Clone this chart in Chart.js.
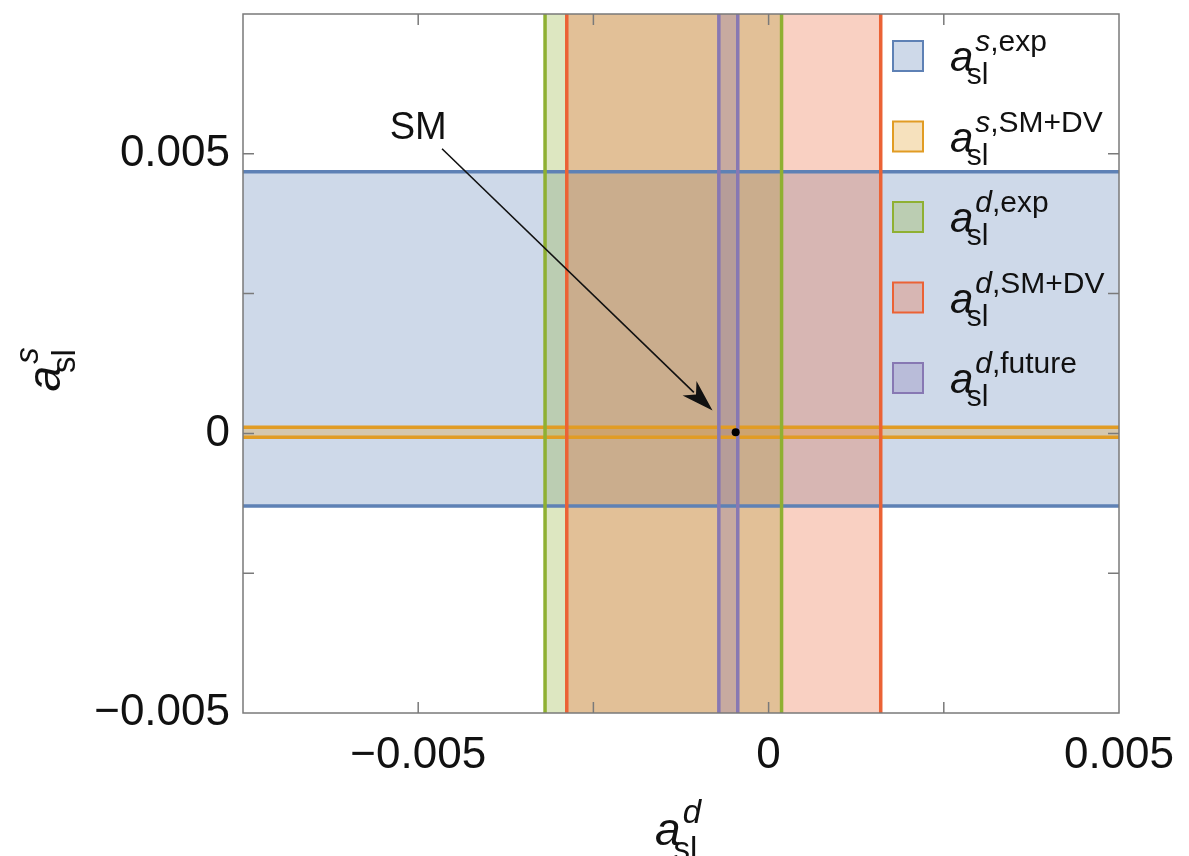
<!DOCTYPE html>
<html>
<head>
<meta charset="utf-8">
<script src="https://cdn.jsdelivr.net/npm/chart.js@4.4.0/dist/chart.umd.min.js"></script>
<style>
  html, body { margin: 0; padding: 0; background: #fff; }
</style>
</head>
<body>
<canvas id="aslChart" width="1189" height="856"></canvas>
<script>
// axis ranges
const xRange = [-0.0075, 0.005];
const yRange = [-0.005, 0.0075];

// allowed ranges
const asExp = [-0.0013, 0.00468];
const asSMDV = [-0.00007, 0.00011];
const adExp = [-0.00319, 0.000185];
const adSMDV = [-0.00288, 0.0016];
const adFuture = [-0.00071, -0.00044];
const smPoint = [-0.00047, 0.00002];

// ticks
const xTickValues = [-0.005, 0, 0.005];
const xTickLabels = ['−0.005', '0', '0.005'];
const yTickValues = [-0.005, 0, 0.005];
const yTickLabels = ['−0.005', '0', '0.005'];
const xMinorTicks = [-0.0025, 0.0025];
const yMinorTicks = [-0.0025, 0.0025];

// legend
const legendSup = [['s', ',exp'], ['s', ',SM+DV'], ['d', ',exp'], ['d', ',SM+DV'], ['d', ',future']];
const colors = ['#5E81B5', '#E19C24', '#8FB032', '#EB6235', '#8778B3'];

// SM annotation
const arrowFrom = [-0.00466, 0.00509];
const arrowTo = [-0.0008, 0.00041];
const smLabelAt = [-0.005, 0.00546];

const FONT = '"Liberation Sans", Arial, Helvetica, sans-serif';

function alpha(hex, a) {
  const n = parseInt(hex.slice(1), 16);
  return `rgba(${(n >> 16) & 255},${(n >> 8) & 255},${n & 255},${a})`;
}

// closed polygons that run past the frame, so only the two band edges show
function hBand(r) {
  return [{x: -0.02, y: r[0]}, {x: 0.02, y: r[0]}, {x: 0.02, y: r[1]}, {x: -0.02, y: r[1]}, {x: -0.02, y: r[0]}];
}
function vBand(r) {
  return [{x: r[0], y: -0.02}, {x: r[0], y: 0.02}, {x: r[1], y: 0.02}, {x: r[1], y: -0.02}, {x: r[0], y: -0.02}];
}

function band(label, data, i) {
  return {
    label: label,
    data: data,
    borderColor: colors[i],
    backgroundColor: alpha(colors[i], 0.3),
    borderWidth: 3.5,
    fill: 'shape',
    pointRadius: 0,
    tension: 0,
    clip: 0,
    order: 5 - i,
  };
}

// a_sl with sub/superscripts, y is the baseline of "a"
function mathLabel(ctx, x, y, sup, size) {
  const small = Math.round(size * 0.72);
  ctx.fillStyle = '#111';
  ctx.textAlign = 'left';
  ctx.textBaseline = 'alphabetic';
  ctx.font = `italic ${size}px ${FONT}`;
  ctx.fillText('a', x, y);
  const aw = ctx.measureText('a').width;
  ctx.font = `${small}px ${FONT}`;
  ctx.fillText('sl', x + aw * 0.72, y + size * 0.32);
  let sx = x + aw * 1.08;
  const sy = y - size * 0.47;
  ctx.font = `italic ${small}px ${FONT}`;
  ctx.fillText(sup[0], sx, sy);
  sx += ctx.measureText(sup[0]).width;
  if (sup[1]) {
    ctx.font = `${small}px ${FONT}`;
    ctx.fillText(sup[1], sx, sy);
  }
}

const extrasPlugin = {
  id: 'extras',
  afterDatasetsDraw(chart) {
    const {ctx, chartArea: a, scales: {x, y}} = chart;
    ctx.save();

    // frame with inward ticks on all four sides
    ctx.strokeStyle = '#7a7a7a';
    ctx.lineWidth = 1.5;
    ctx.strokeRect(a.left, a.top, a.right - a.left, a.bottom - a.top);
    const len = 11;
    ctx.beginPath();
    xTickValues.concat(xMinorTicks).forEach(v => {
      const px = x.getPixelForValue(v);
      if (px <= a.left + 1 || px >= a.right - 1) return;
      ctx.moveTo(px, a.bottom); ctx.lineTo(px, a.bottom - len);
      ctx.moveTo(px, a.top); ctx.lineTo(px, a.top + len);
    });
    yTickValues.concat(yMinorTicks).forEach(v => {
      const py = y.getPixelForValue(v);
      if (py <= a.top + 1 || py >= a.bottom - 1) return;
      ctx.moveTo(a.left, py); ctx.lineTo(a.left + len, py);
      ctx.moveTo(a.right, py); ctx.lineTo(a.right - len, py);
    });
    ctx.stroke();

    // legend
    const boxX = a.right - 226, box = 30;
    legendSup.forEach((sup, i) => {
      const cy = a.top + 42 + i * 80.5;
      ctx.fillStyle = alpha(colors[i], 0.3);
      ctx.fillRect(boxX, cy - box / 2, box, box);
      ctx.strokeStyle = colors[i];
      ctx.lineWidth = 2;
      ctx.strokeRect(boxX, cy - box / 2, box, box);
      mathLabel(ctx, boxX + 57, cy + 15, sup, 42);
    });

    // SM arrow
    const x0 = x.getPixelForValue(arrowFrom[0]), y0 = y.getPixelForValue(arrowFrom[1]);
    const x1 = x.getPixelForValue(arrowTo[0]), y1 = y.getPixelForValue(arrowTo[1]);
    const ang = Math.atan2(y1 - y0, x1 - x0);
    const hl = 32, hw = 10;
    const bx = x1 - hl * Math.cos(ang), by = y1 - hl * Math.sin(ang);
    ctx.strokeStyle = '#111';
    ctx.lineWidth = 1.6;
    ctx.beginPath();
    ctx.moveTo(x0, y0);
    ctx.lineTo(bx + 6 * Math.cos(ang), by + 6 * Math.sin(ang));
    ctx.stroke();
    ctx.fillStyle = '#111';
    ctx.beginPath();
    ctx.moveTo(x1, y1);
    ctx.lineTo(bx - hw * Math.sin(ang), by + hw * Math.cos(ang));
    ctx.lineTo(bx + 9 * Math.cos(ang), by + 9 * Math.sin(ang));
    ctx.lineTo(bx + hw * Math.sin(ang), by - hw * Math.cos(ang));
    ctx.closePath();
    ctx.fill();

    ctx.font = `38px ${FONT}`;
    ctx.textAlign = 'center';
    ctx.textBaseline = 'middle';
    ctx.fillText('SM', x.getPixelForValue(smLabelAt[0]), y.getPixelForValue(smLabelAt[1]));

    // axis titles
    const cx = (a.left + a.right) / 2;
    mathLabel(ctx, cx - 26, 845, ['d'], 46);
    const cyT = (a.top + a.bottom) / 2;
    ctx.translate(60, cyT + 28);
    ctx.rotate(-Math.PI / 2);
    mathLabel(ctx, 0, 0, ['s'], 46);

    ctx.restore();
  }
};

const ctx = document.getElementById('aslChart');

new Chart(ctx, {
  type: 'line',
  data: {
    datasets: [
      band('a_sl^s,exp', hBand(asExp), 0),
      band('a_sl^s,SM+DV', hBand(asSMDV), 1),
      band('a_sl^d,exp', vBand(adExp), 2),
      band('a_sl^d,SM+DV', vBand(adSMDV), 3),
      band('a_sl^d,future', vBand(adFuture), 4),
      {
        label: 'SM',
        data: [{x: smPoint[0], y: smPoint[1]}],
        showLine: false,
        pointRadius: 4,
        pointBackgroundColor: '#000',
        pointBorderWidth: 0,
        order: 0,
      },
    ],
  },
  options: {
    responsive: false,
    animation: false,
    layout: { padding: { left: 0, top: 14, right: 70, bottom: 0 } },
    plugins: {
      legend: { display: false },
      tooltip: { enabled: false },
      filler: { drawTime: 'beforeDatasetsDraw' },
    },
    scales: {
      x: {
        type: 'linear',
        min: xRange[0],
        max: xRange[1],
        grid: { display: false, drawTicks: false },
        border: { display: false },
        afterBuildTicks: s => { s.ticks = xTickValues.map(v => ({ value: v })); },
        afterFit: s => { s.height = 143; s.paddingLeft = 0; s.paddingRight = 0; },
        ticks: {
          autoSkip: false,
          maxRotation: 0,
          padding: 16,
          color: '#111',
          font: { family: FONT, size: 44 },
          callback: v => xTickLabels[xTickValues.indexOf(v)] ?? '',
        },
      },
      y: {
        type: 'linear',
        min: yRange[0],
        max: yRange[1],
        grid: { display: false, drawTicks: false },
        border: { display: false },
        afterBuildTicks: s => { s.ticks = yTickValues.map(v => ({ value: v })); },
        afterFit: s => { s.width = 243; s.paddingTop = 0; s.paddingBottom = 0; },
        ticks: {
          autoSkip: false,
          padding: 13,
          color: '#111',
          font: { family: FONT, size: 44 },
          callback: v => yTickLabels[yTickValues.indexOf(v)] ?? '',
        },
      },
    },
  },
  plugins: [extrasPlugin],
});
</script>
</body>
</html>
